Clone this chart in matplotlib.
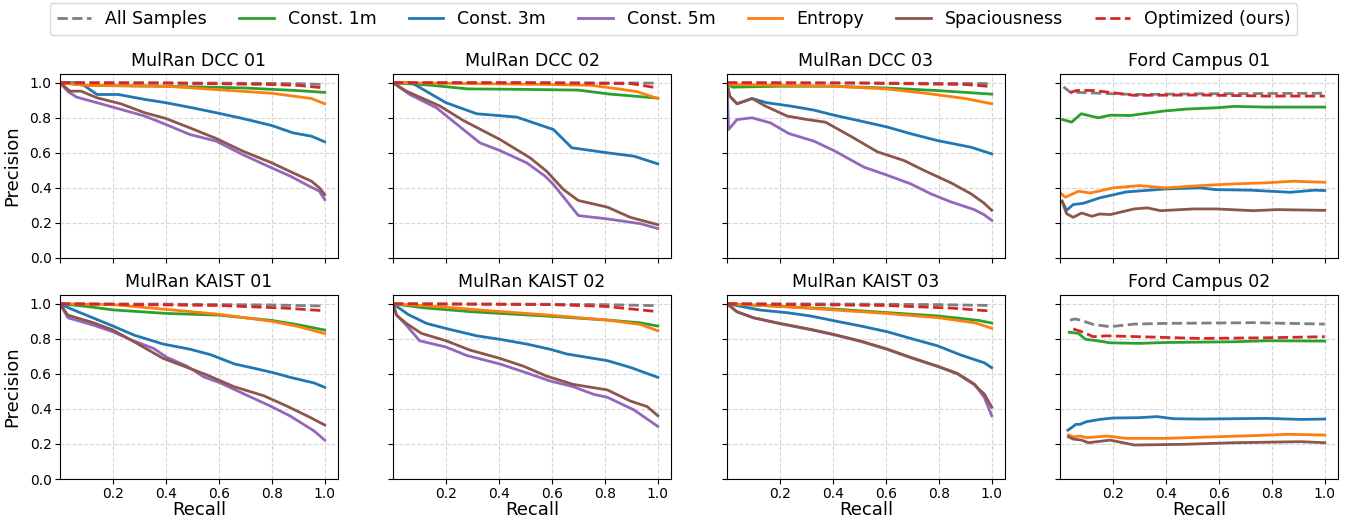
import matplotlib.pyplot as plt

# series order / styles
names = ["All Samples", "Const. 1m", "Const. 3m", "Const. 5m", "Entropy", "Spaciousness", "Optimized (ours)"]
colors = ["tab:gray", "tab:green", "tab:blue", "tab:purple", "tab:orange", "tab:brown", "tab:red"]
dashed = ["All Samples", "Optimized (ours)"]

titles = ["MulRan DCC 01", "MulRan DCC 02", "MulRan DCC 03", "Ford Campus 01",
          "MulRan KAIST 01", "MulRan KAIST 02", "MulRan KAIST 03", "Ford Campus 02"]

# (recall, precision)
dcc01 = {
    "All Samples": ([0.0, 0.3, 0.6, 0.9, 1.0], [1.0, 1.0, 0.998, 0.995, 0.99]),
    "Const. 1m": ([0.0, 0.1, 0.4, 0.7, 0.9, 1.0], [1.0, 0.985, 0.98, 0.97, 0.955, 0.945]),
    "Const. 3m": ([0.0, 0.01, 0.076, 0.14, 0.22, 0.32, 0.40, 0.5, 0.59, 0.69, 0.80, 0.88, 0.95, 1.0],
                  [1.0, 1.0, 1.0, 0.933, 0.933, 0.905, 0.886, 0.857, 0.829, 0.796, 0.756, 0.714, 0.695, 0.663]),
    "Const. 5m": ([0.0, 0.03, 0.063, 0.14, 0.23, 0.32, 0.40, 0.49, 0.59, 0.69, 0.80, 0.87, 0.93, 0.98, 1.0],
                  [1.0, 0.95, 0.918, 0.886, 0.848, 0.81, 0.762, 0.705, 0.667, 0.59, 0.514, 0.467, 0.419, 0.381, 0.333]),
    "Entropy": ([0.0, 0.1, 0.4, 0.6, 0.8, 0.95, 1.0], [1.0, 0.985, 0.98, 0.96, 0.94, 0.91, 0.88]),
    "Spaciousness": ([0.0, 0.038, 0.08, 0.14, 0.23, 0.32, 0.40, 0.49, 0.59, 0.69, 0.80, 0.88, 0.95, 0.98, 1.0],
                     [1.0, 0.952, 0.952, 0.914, 0.88, 0.829, 0.796, 0.743, 0.682, 0.61, 0.543, 0.486, 0.438, 0.40, 0.362]),
    "Optimized (ours)": ([0.0, 0.4, 0.8, 0.9, 1.0], [1.0, 0.998, 0.99, 0.985, 0.97]),
}
dcc02 = {
    "All Samples": ([0.0, 0.5, 1.0], [1.0, 1.0, 0.998]),
    "Const. 1m": ([0.0, 0.15, 0.28, 0.5, 0.7, 0.82, 0.9, 1.0], [1.0, 0.985, 0.965, 0.962, 0.958, 0.935, 0.925, 0.912]),
    "Const. 3m": ([0.0, 0.07, 0.2, 0.316, 0.467, 0.606, 0.675, 0.81, 0.91, 1.0],
                  [1.0, 1.0, 0.886, 0.823, 0.804, 0.733, 0.629, 0.6, 0.581, 0.537]),
    "Const. 5m": ([0.0, 0.063, 0.164, 0.328, 0.404, 0.505, 0.574, 0.606, 0.70, 0.81, 0.934, 1.0],
                  [1.0, 0.933, 0.857, 0.657, 0.613, 0.543, 0.467, 0.419, 0.242, 0.223, 0.196, 0.168]),
    "Entropy": ([0.0, 0.6, 0.75, 0.85, 0.92, 1.0], [1.0, 0.99, 0.985, 0.965, 0.95, 0.91]),
    "Spaciousness": ([0.0, 0.05, 0.177, 0.265, 0.404, 0.518, 0.58, 0.644, 0.70, 0.81, 0.896, 1.0],
                     [1.0, 0.952, 0.867, 0.785, 0.676, 0.571, 0.495, 0.39, 0.328, 0.29, 0.232, 0.19]),
    "Optimized (ours)": ([0.0, 0.5, 0.9, 1.0], [1.0, 1.0, 0.995, 0.97]),
}
dcc03 = {
    "All Samples": ([0.0, 0.5, 1.0], [1.0, 0.999, 0.995]),
    "Const. 1m": ([0.0, 0.02, 0.2, 0.4, 0.6, 0.8, 1.0], [1.0, 0.975, 0.98, 0.98, 0.97, 0.955, 0.935]),
    "Const. 3m": ([0.0, 0.01, 0.038, 0.095, 0.15, 0.24, 0.328, 0.404, 0.518, 0.606, 0.694, 0.795, 0.922, 1.0],
                  [1.0, 0.924, 0.88, 0.91, 0.886, 0.867, 0.844, 0.815, 0.777, 0.747, 0.709, 0.67, 0.632, 0.594]),
    "Const. 5m": ([0.0, 0.006, 0.038, 0.095, 0.164, 0.234, 0.328, 0.404, 0.518, 0.606, 0.694, 0.77, 0.846, 0.934, 0.97, 1.0],
                  [1.0, 0.733, 0.79, 0.80, 0.771, 0.71, 0.667, 0.613, 0.518, 0.472, 0.423, 0.366, 0.32, 0.276, 0.248, 0.215]),
    "Entropy": ([0.0, 0.2, 0.4, 0.6, 0.75, 0.9, 1.0], [0.99, 0.985, 0.98, 0.965, 0.94, 0.91, 0.88]),
    "Spaciousness": ([0.0, 0.01, 0.038, 0.095, 0.145, 0.227, 0.303, 0.372, 0.467, 0.568, 0.669, 0.745, 0.846, 0.922, 0.97, 1.0],
                     [1.0, 0.924, 0.88, 0.91, 0.867, 0.81, 0.79, 0.775, 0.695, 0.606, 0.556, 0.499, 0.429, 0.366, 0.314, 0.272]),
    "Optimized (ours)": ([0.0, 0.5, 0.9, 1.0], [1.0, 0.998, 0.99, 0.978]),
}
ford01 = {
    "All Samples": ([0.013, 0.038, 0.15, 0.28, 0.53, 1.0], [0.977, 0.947, 0.94, 0.933, 0.937, 0.94]),
    "Const. 1m": ([0.01, 0.044, 0.08, 0.145, 0.19, 0.265, 0.39, 0.48, 0.59, 0.657, 0.78, 1.0],
                  [0.79, 0.775, 0.823, 0.80, 0.815, 0.813, 0.838, 0.85, 0.857, 0.865, 0.861, 0.861]),
    "Const. 3m": ([0.008, 0.025, 0.05, 0.088, 0.15, 0.25, 0.40, 0.53, 0.59, 0.72, 0.87, 0.96, 1.0],
                  [0.324, 0.272, 0.305, 0.312, 0.343, 0.377, 0.394, 0.40, 0.39, 0.387, 0.375, 0.387, 0.385]),
    "Const. 5m": ([], []),
    "Entropy": ([0.004, 0.02, 0.07, 0.114, 0.145, 0.2, 0.30, 0.40, 0.53, 0.657, 0.78, 0.88, 1.0],
                [0.368, 0.347, 0.381, 0.371, 0.381, 0.40, 0.413, 0.40, 0.413, 0.423, 0.429, 0.438, 0.432]),
    "Spaciousness": ([0.008, 0.025, 0.05, 0.082, 0.12, 0.15, 0.19, 0.28, 0.33, 0.38, 0.505, 0.59, 0.73, 0.82, 1.0],
                     [0.324, 0.253, 0.232, 0.257, 0.238, 0.251, 0.248, 0.28, 0.286, 0.27, 0.28, 0.28, 0.27, 0.276, 0.272]),
    "Optimized (ours)": ([0.038, 0.063, 0.126, 0.2, 0.28, 0.53, 0.78, 1.0],
                         [0.943, 0.956, 0.956, 0.943, 0.928, 0.93, 0.924, 0.924]),
}
kaist01 = {
    "All Samples": ([0.0, 0.4, 0.8, 1.0], [1.0, 0.998, 0.993, 0.987]),
    "Const. 1m": ([0.0, 0.1, 0.2, 0.4, 0.6, 0.7, 0.8, 0.9, 1.0], [1.0, 0.985, 0.965, 0.945, 0.935, 0.92, 0.905, 0.88, 0.85]),
    "Const. 3m": ([0.0, 0.038, 0.114, 0.2, 0.28, 0.39, 0.49, 0.57, 0.66, 0.73, 0.81, 0.87, 0.96, 1.0],
                  [1.0, 0.973, 0.926, 0.873, 0.821, 0.77, 0.741, 0.709, 0.656, 0.633, 0.605, 0.58, 0.548, 0.523]),
    "Const. 5m": ([0.0, 0.03, 0.126, 0.2, 0.28, 0.354, 0.404, 0.48, 0.543, 0.606, 0.707, 0.795, 0.87, 0.96, 1.0],
                  [1.0, 0.92, 0.878, 0.84, 0.787, 0.745, 0.694, 0.644, 0.583, 0.548, 0.477, 0.416, 0.359, 0.274, 0.222]),
    "Entropy": ([0.0, 0.2, 0.4, 0.6, 0.7, 0.8, 0.9, 1.0], [1.0, 0.995, 0.968, 0.94, 0.92, 0.9, 0.87, 0.83]),
    "Spaciousness": ([0.0, 0.03, 0.126, 0.2, 0.28, 0.39, 0.48, 0.556, 0.657, 0.77, 0.86, 0.947, 1.0],
                     [1.0, 0.935, 0.892, 0.85, 0.783, 0.688, 0.637, 0.593, 0.527, 0.475, 0.414, 0.35, 0.308]),
    "Optimized (ours)": ([0.0, 0.6, 0.85, 1.0], [1.0, 0.99, 0.975, 0.96]),
}
kaist02 = {
    "All Samples": ([0.0, 0.5, 0.8, 1.0], [1.0, 0.998, 0.995, 0.989]),
    "Const. 1m": ([0.0, 0.114, 0.3, 0.556, 0.81, 0.93, 1.0], [1.0, 0.977, 0.954, 0.932, 0.907, 0.892, 0.873]),
    "Const. 3m": ([0.0, 0.057, 0.126, 0.2, 0.316, 0.404, 0.505, 0.594, 0.657, 0.758, 0.81, 0.896, 1.0],
                  [1.0, 0.939, 0.888, 0.859, 0.817, 0.797, 0.77, 0.74, 0.713, 0.688, 0.675, 0.637, 0.58]),
    "Const. 5m": ([0.0, 0.013, 0.05, 0.1, 0.2, 0.278, 0.404, 0.492, 0.594, 0.68, 0.758, 0.81, 0.91, 1.0],
                  [1.0, 0.935, 0.878, 0.789, 0.753, 0.705, 0.656, 0.612, 0.559, 0.527, 0.483, 0.466, 0.394, 0.30]),
    "Entropy": ([0.0, 0.177, 0.366, 0.556, 0.81, 0.934, 1.0], [1.0, 0.983, 0.96, 0.939, 0.907, 0.882, 0.846]),
    "Spaciousness": ([0.0, 0.013, 0.05, 0.107, 0.2, 0.29, 0.404, 0.492, 0.58, 0.68, 0.81, 0.896, 0.96, 1.0],
                     [1.0, 0.935, 0.888, 0.831, 0.789, 0.736, 0.688, 0.644, 0.587, 0.54, 0.508, 0.445, 0.413, 0.361]),
    "Optimized (ours)": ([0.0, 0.6, 0.8, 0.9, 1.0], [1.0, 0.995, 0.985, 0.97, 0.955]),
}
kaist03 = {
    "All Samples": ([0.0, 0.5, 0.8, 1.0], [1.0, 0.998, 0.995, 0.99]),
    "Const. 1m": ([0.0, 0.2, 0.4, 0.6, 0.8, 0.95, 1.0], [1.0, 0.985, 0.97, 0.95, 0.93, 0.905, 0.89]),
    "Const. 3m": ([0.0, 0.126, 0.227, 0.316, 0.404, 0.505, 0.606, 0.694, 0.795, 0.884, 0.972, 1.0],
                  [1.0, 0.964, 0.949, 0.93, 0.903, 0.873, 0.84, 0.802, 0.76, 0.707, 0.663, 0.635]),
    "Const. 5m": ([0.0, 0.038, 0.1, 0.2, 0.316, 0.404, 0.505, 0.606, 0.694, 0.795, 0.87, 0.934, 0.95, 0.972, 1.0],
                  [1.0, 0.954, 0.92, 0.886, 0.852, 0.823, 0.785, 0.739, 0.692, 0.642, 0.6, 0.538, 0.51, 0.465, 0.361]),
    "Entropy": ([0.0, 0.2, 0.4, 0.6, 0.8, 0.94, 1.0], [1.0, 0.985, 0.965, 0.945, 0.92, 0.89, 0.86]),
    "Spaciousness": ([0.0, 0.038, 0.1, 0.2, 0.316, 0.404, 0.505, 0.606, 0.694, 0.795, 0.87, 0.934, 0.95, 0.972, 1.0],
                     [1.0, 0.954, 0.92, 0.888, 0.854, 0.825, 0.787, 0.741, 0.694, 0.644, 0.603, 0.542, 0.515, 0.485, 0.409]),
    "Optimized (ours)": ([0.0, 0.6, 0.85, 1.0], [1.0, 0.99, 0.975, 0.958]),
}
ford02 = {
    "All Samples": ([0.038, 0.057, 0.076, 0.126, 0.19, 0.28, 0.40, 0.73, 1.0],
                    [0.907, 0.913, 0.907, 0.882, 0.869, 0.884, 0.888, 0.892, 0.884]),
    "Const. 1m": ([0.035, 0.07, 0.095, 0.14, 0.19, 0.3, 0.40, 0.657, 0.78, 1.0],
                  [0.837, 0.831, 0.798, 0.789, 0.777, 0.774, 0.779, 0.783, 0.789, 0.787]),
    "Const. 3m": ([0.03, 0.044, 0.06, 0.076, 0.1, 0.15, 0.2, 0.3, 0.366, 0.43, 0.53, 0.78, 0.91, 1.0],
                  [0.279, 0.293, 0.312, 0.312, 0.327, 0.34, 0.348, 0.35, 0.356, 0.344, 0.342, 0.346, 0.34, 0.342]),
    "Const. 5m": ([], []),
    "Entropy": ([0.032, 0.05, 0.076, 0.1, 0.177, 0.25, 0.4, 0.59, 0.72, 0.86, 1.0],
                [0.251, 0.241, 0.245, 0.236, 0.245, 0.232, 0.232, 0.241, 0.247, 0.255, 0.251]),
    "Spaciousness": ([0.032, 0.05, 0.082, 0.107, 0.19, 0.28, 0.47, 0.657, 0.91, 1.0],
                     [0.241, 0.228, 0.222, 0.207, 0.222, 0.194, 0.198, 0.207, 0.213, 0.207]),
    "Optimized (ours)": ([0.05, 0.076, 0.126, 0.177, 0.3, 0.53, 0.78, 1.0],
                         [0.856, 0.844, 0.812, 0.817, 0.812, 0.802, 0.806, 0.812]),
}
panels = [dcc01, dcc02, dcc03, ford01, kaist01, kaist02, kaist03, ford02]

fig = plt.figure(figsize=(13.47, 5.21), dpi=100)
lefts = [0.0445, 0.2918, 0.5397, 0.7869]
bottoms = [0.5048, 0.0806]
w, h = 0.2064, 0.3532

handles = []
for i, (title, data) in enumerate(zip(titles, panels)):
    r, c = divmod(i, 4)
    ax = fig.add_axes([lefts[c], bottoms[r], w, h])
    for name, col in zip(names, colors):
        xs, ys = data[name]
        ls = "--" if name in dashed else "-"
        ln, = ax.plot(xs, ys, ls, color=col, lw=2, label=name)
        if i == 0:
            handles.append(ln)
    ax.set_xlim(0, 1.05)
    ax.set_ylim(0, 1.05)
    ax.set_yticks([0, 0.2, 0.4, 0.6, 0.8, 1.0])
    if r == 0:
        ax.set_xticks([0, 0.2, 0.4, 0.6, 0.8, 1.0])
        ax.set_xticklabels([])
    else:
        ax.set_xticks([0.2, 0.4, 0.6, 0.8, 1.0])
        ax.set_xlabel("Recall", fontsize=13, labelpad=0)
    if c == 0:
        ax.set_ylabel("Precision", fontsize=13, labelpad=6)
    else:
        ax.set_yticklabels([])
    ax.tick_params(labelsize=10, pad=2.5)
    ax.grid(True, ls="--", color="lightgray", alpha=0.9)
    ax.set_title(title, fontsize=12.5)

fig.legend(handles=handles, labels=names, loc="upper center", bbox_to_anchor=(0.5, 1.01),
           ncol=7, fontsize=12.5, columnspacing=1.85, handlelength=2.0)
plt.savefig("out.png")
